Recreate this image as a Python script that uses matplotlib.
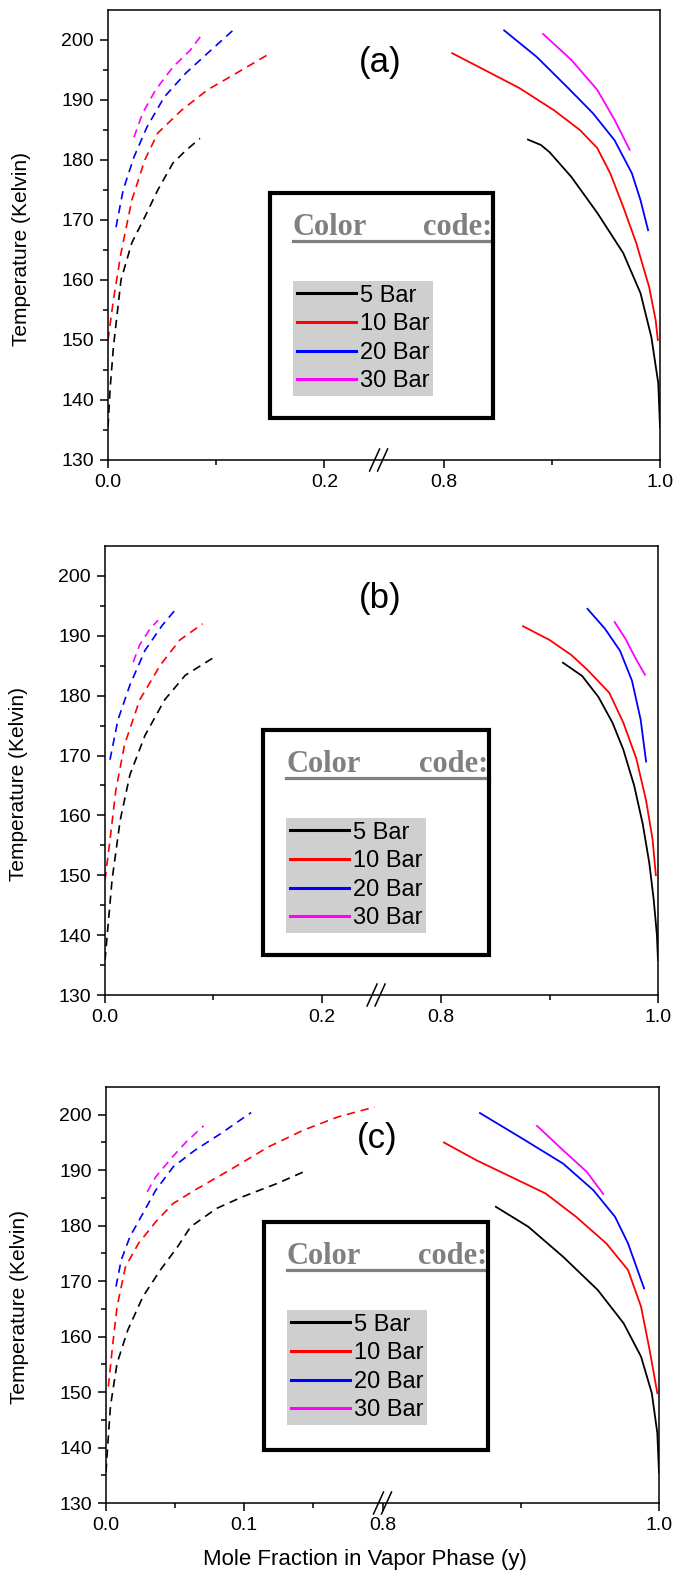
import numpy as np
import matplotlib.pyplot as plt
from matplotlib.patches import Rectangle

W, H = 679, 1571

LABELS = ["5 Bar", "10 Bar", "20 Bar", "30 Bar"]
COLORS = ["black", "red", "blue", "magenta"]
Y_TICKS = [130, 140, 150, 160, 170, 180, 190, 200]

# (y, T) points; dashed = left branch, solid = right branch
A_DASH_5 = [(0.0, 135.5), (0.002, 142.0), (0.005, 148.8), (0.012, 160.0), (0.022, 166.2),
            (0.034, 170.5), (0.046, 175.0), (0.06, 179.5), (0.072, 181.6), (0.085, 183.6)]
A_DASH_10 = [(0.0, 150.0), (0.005, 156.7), (0.012, 164.5), (0.022, 173.3), (0.034, 180.0),
             (0.046, 184.5), (0.068, 188.3), (0.092, 191.7), (0.116, 194.2), (0.150, 197.8)]
A_DASH_20 = [(0.0074, 168.8), (0.014, 175.0), (0.024, 180.5), (0.036, 185.5), (0.052, 190.5),
             (0.072, 194.5), (0.092, 197.8), (0.116, 201.7)]
A_DASH_30 = [(0.024, 183.8), (0.032, 187.8), (0.044, 191.7), (0.060, 195.5), (0.076, 198.3),
             (0.088, 201.2)]
A_SOLID_5 = [(0.878, 183.4), (0.890, 182.5), (0.898, 181.3), (0.918, 177.2), (0.942, 171.2),
             (0.966, 164.5), (0.982, 157.8), (0.992, 150.5), (0.9984, 142.8), (1.0, 135.5)]
A_SOLID_10 = [(0.808, 197.8), (0.838, 195.0), (0.870, 192.0), (0.902, 188.3), (0.926, 185.0),
              (0.942, 182.0), (0.954, 177.8), (0.966, 172.2), (0.978, 166.2), (0.990, 158.8),
              (0.996, 153.3), (0.998, 150.0)]
A_SOLID_20 = [(0.856, 201.6), (0.886, 197.2), (0.914, 192.2), (0.938, 187.8), (0.958, 183.3),
              (0.974, 177.8), (0.982, 173.3), (0.989, 168.3)]
A_SOLID_30 = [(0.892, 201.0), (0.918, 196.7), (0.942, 191.7), (0.958, 186.7), (0.972, 181.7)]

B_DASH_5 = [(0.0, 135.8), (0.003, 142.0), (0.0065, 149.2), (0.014, 159.2), (0.023, 166.8),
            (0.037, 173.4), (0.055, 179.3), (0.074, 183.4), (0.0996, 186.3)]
B_DASH_10 = [(0.0, 149.2), (0.0046, 155.9), (0.010, 164.2), (0.018, 171.8), (0.032, 179.3),
             (0.051, 185.1), (0.069, 189.3), (0.090, 192.0)]
B_DASH_20 = [(0.0046, 169.3), (0.012, 176.0), (0.023, 181.8), (0.037, 187.6), (0.053, 191.8),
             (0.067, 194.8)]
B_DASH_30 = [(0.026, 185.6), (0.032, 188.5), (0.042, 191.3), (0.049, 192.6)]
B_SOLID_5 = [(0.9124, 185.5), (0.930, 183.3), (0.945, 179.8), (0.958, 175.5), (0.968, 171.0),
             (0.978, 165.0), (0.986, 158.5), (0.992, 152.0), (0.996, 146.0), (0.999, 140.0),
             (1.0, 135.8)]
B_SOLID_10 = [(0.8755, 191.6), (0.900, 189.3), (0.920, 186.8), (0.935, 184.3), (0.955, 180.5),
              (0.968, 175.5), (0.980, 169.5), (0.989, 162.5), (0.995, 156.0), (0.998, 150.0)]
B_SOLID_20 = [(0.935, 194.5), (0.951, 191.2), (0.965, 187.5), (0.976, 182.5), (0.984, 176.0),
              (0.989, 169.0)]
B_SOLID_30 = [(0.960, 192.3), (0.970, 189.5), (0.980, 186.0), (0.988, 183.5)]

C_DASH_5 = [(0.0, 135.6), (0.0012, 140.2), (0.0032, 147.4), (0.008, 155.2), (0.0158, 161.2),
            (0.0267, 167.2), (0.0393, 172.0), (0.0518, 176.2), (0.0612, 179.8), (0.0799, 183.1),
            (0.0987, 185.2), (0.1237, 187.6), (0.1457, 190.0)]
C_DASH_10 = [(0.0017, 151.0), (0.0047, 158.2), (0.008, 165.4), (0.0141, 172.6), (0.0235, 176.8),
             (0.036, 180.7), (0.0486, 184.0), (0.0642, 186.4), (0.0893, 190.0), (0.1175, 194.2),
             (0.1426, 197.2), (0.1677, 199.6), (0.1943, 201.4)]
C_DASH_20 = [(0.0072, 169.0), (0.011, 173.8), (0.0173, 178.0), (0.0267, 182.2), (0.036, 186.4),
             (0.0486, 190.6), (0.0643, 193.6), (0.083, 196.6), (0.105, 200.4)]
C_DASH_30 = [(0.0298, 186.1), (0.036, 188.8), (0.047, 192.1), (0.058, 195.1), (0.0706, 198.0)]
C_SOLID_5 = [(0.882, 183.4), (0.9055, 179.8), (0.9306, 174.4), (0.9557, 168.4), (0.9744, 162.4),
             (0.987, 156.4), (0.9948, 149.8), (0.9988, 142.6), (1.0, 135.5)]
C_SOLID_10 = [(0.8444, 195.0), (0.8679, 191.8), (0.893, 188.8), (0.918, 185.8), (0.94, 181.6),
              (0.9619, 176.8), (0.9776, 172.0), (0.987, 165.4), (0.9932, 157.6), (0.9988, 149.8)]
C_SOLID_20 = [(0.8705, 200.3), (0.8992, 196.0), (0.9306, 191.2), (0.9525, 186.4), (0.9682, 181.6),
              (0.9776, 176.8), (0.9892, 168.7)]
C_SOLID_30 = [(0.9118, 198.0), (0.9306, 193.6), (0.9478, 189.7), (0.9597, 185.7)]


def broken_scale(lo_end, hi_start):
    gap = hi_start - lo_end

    def fwd(x):
        x = np.asarray(x, float)
        return np.where(x <= lo_end, x, np.where(x >= hi_start, x - gap, lo_end))

    def inv(u):
        u = np.asarray(u, float)
        return np.where(u <= lo_end, u, u + gap)

    return fwd, inv


def fig_xy(px, py):
    return px / W, 1 - py / H


def color_code_box(fig, ax, bx, by, bw, bh):
    # outer thick frame
    x0, y1 = fig_xy(bx, by)
    x1, y0 = fig_xy(bx + bw, by + bh)
    fig.add_artist(Rectangle((x0, y0), x1 - x0, y1 - y0, transform=fig.transFigure,
                             fill=False, lw=3.0, ec="black", zorder=5))
    tx, ty = fig_xy(bx + 23, by + 42)
    fig.text(tx, ty, "Color", family="Liberation Serif", weight="bold", fontsize=22,
             color="#808080", ha="left", va="baseline")
    tx2, _ = fig_xy(bx + bw - 1, by + 42)
    fig.text(tx2, ty, "code:", family="Liberation Serif", weight="bold", fontsize=22,
             color="#808080", ha="right", va="baseline")
    ux0, uy = fig_xy(bx + 23, by + 48)
    ux1, _ = fig_xy(bx + bw, by + 48)
    fig.add_artist(plt.Line2D([ux0, ux1], [uy, uy], transform=fig.transFigure,
                              color="#808080", lw=2.3))

    handles = [plt.Line2D([], [], color=c, lw=2.2) for c in COLORS]
    lx, ly = fig_xy(bx + 23, by + 88)
    leg = ax.legend(handles, LABELS, loc="upper left", bbox_to_anchor=(lx, ly),
                    bbox_transform=fig.transFigure, frameon=True,
                    fancybox=False, borderaxespad=0, borderpad=0.15, labelspacing=0.28,
                    handlelength=2.5, handletextpad=0.2,
                    prop={"family": "Liberation Sans", "size": 17})
    fr = leg.get_frame()
    fr.set_facecolor("#cfcfcf")
    fr.set_edgecolor("none")
    fr.set_alpha(1)


plt.rcParams["font.family"] = ["Liberation Sans", "DejaVu Sans"]
fig = plt.figure(figsize=(W / 100, H / 100), dpi=100)

panels = [
    dict(rect=(108, 10, 552, 450), tag="(a)", tagpos=(0.493, 0.884),
         scale=(0.25, 0.74), ticks=[0.0, 0.2, 0.8, 1.0], minor=[0.1, 0.9],
         dash=[A_DASH_5, A_DASH_10, A_DASH_20, A_DASH_30],
         solid=[A_SOLID_5, A_SOLID_10, A_SOLID_20, A_SOLID_30], box=(270, 193, 223, 225)),
    dict(rect=(105, 546, 553, 449), tag="(b)", tagpos=(0.497, 0.884),
         scale=(0.25, 0.74), ticks=[0.0, 0.2, 0.8, 1.0], minor=[0.1, 0.9],
         dash=[B_DASH_5, B_DASH_10, B_DASH_20, B_DASH_30],
         solid=[B_SOLID_5, B_SOLID_10, B_SOLID_20, B_SOLID_30], box=(263, 730, 226, 225)),
    dict(rect=(106, 1087, 553, 416), tag="(c)", tagpos=(0.49, 0.877),
         scale=(0.2, 0.8), ticks=[0.0, 0.1, 0.8, 1.0], minor=[0.05, 0.15, 0.9],
         dash=[C_DASH_5, C_DASH_10, C_DASH_20, C_DASH_30],
         solid=[C_SOLID_5, C_SOLID_10, C_SOLID_20, C_SOLID_30], box=(264, 1222, 224, 228)),
]

for i, p in enumerate(panels):
    px, py, pw, ph = p["rect"]
    ax = fig.add_axes([px / W, 1 - (py + ph) / H, pw / W, ph / H])
    fwd, inv = broken_scale(*p["scale"])
    ax.set_xscale("function", functions=(fwd, inv))
    ax.set_xlim(0, 1.0)
    ax.set_ylim(130, 205)

    for pts, c in zip(p["dash"], COLORS):
        x, t = zip(*pts)
        ax.plot(x, t, color=c, lw=1.2, dashes=(5, 3.5))
    for pts, c in zip(p["solid"], COLORS):
        x, t = zip(*pts)
        ax.plot(x, t, color=c, lw=1.3)

    ax.set_xticks(p["ticks"])
    ax.set_xticklabels([f"{v:.1f}" for v in p["ticks"]])
    ax.set_xticks(p["minor"], minor=True)
    ax.set_yticks(Y_TICKS)
    ax.set_yticks(np.arange(135, 205, 10), minor=True)
    ax.tick_params(which="major", direction="out", length=6, width=1.1, labelsize=14, pad=4)
    ax.tick_params(which="minor", direction="out", length=3.5, width=1.1)
    for s in ax.spines.values():
        s.set_linewidth(1.1)

    ax.set_ylabel("Temperature (Kelvin)", fontsize=15)
    ax.yaxis.set_label_coords(-0.14, 0.47)
    ax.text(p["tagpos"][0], p["tagpos"][1], p["tag"], transform=ax.transAxes,
            fontsize=25, ha="center", va="center")

    # axis break marks "//" across the bottom spine
    xb = float(fwd(p["scale"][0]) / fwd(1.0))
    bx0, by0 = ax.transAxes.transform((xb, 0))
    inv_fig = fig.transFigure.inverted()
    for off in (-4.0, 4.0):
        x_a, y_a = inv_fig.transform((bx0 + off - 5, by0 - 11))
        x_b, y_b = inv_fig.transform((bx0 + off + 5, by0 + 11))
        fig.add_artist(plt.Line2D([x_a, x_b], [y_a, y_b], transform=fig.transFigure,
                                  color="black", lw=1.1))

    if i == 2:
        ax.set_xlabel("Mole Fraction in Vapor Phase (y)", fontsize=16)
        ax.xaxis.set_label_coords(0.468, -0.11)

    color_code_box(fig, ax, *p["box"])

fig.savefig("out.png", dpi=100)
